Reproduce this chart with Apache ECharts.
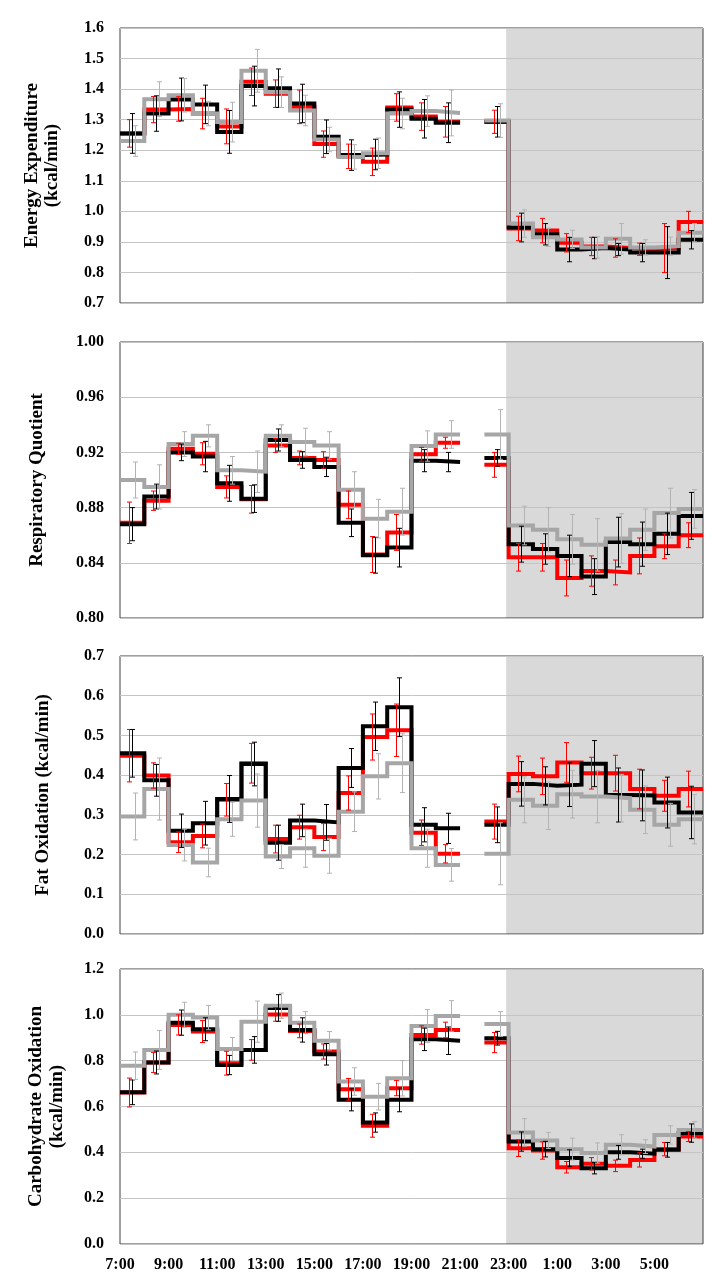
<!DOCTYPE html>
<html><head><meta charset="utf-8">
<script src="https://cdn.jsdelivr.net/npm/echarts@6/dist/echarts.min.js"></script>
<style>html,body{margin:0;padding:0;background:#fff}#c{width:722px;height:1280px}</style>
</head><body><div id="c"></div>
<script>
// 24 hourly bins starting at 7:00 (index = hours after 7:00); 21:00-22:00 bin has no data
const bins = ['7:00','8:00','9:00','10:00','11:00','12:00','13:00','14:00','15:00','16:00','17:00','18:00','19:00','20:00','21:00','22:00','23:00','0:00','1:00','2:00','3:00','4:00','5:00','6:00'];
const xTickLabels = ['7:00','9:00','11:00','13:00','15:00','17:00','19:00','21:00','23:00','1:00','3:00','5:00'];
const nightStart = 16; // 23:00
const nightEnd = 24;   // 7:00 next day

// Energy Expenditure (kcal/min)
const eeBlack    = [1.255,1.32,1.366,1.35,1.26,1.41,1.403,1.353,1.244,1.184,1.186,1.333,1.303,1.29,null,1.293,0.947,0.925,0.875,0.88,0.875,0.865,0.865,0.907];
const eeBlackErr = [0.065,0.058,0.07,0.063,0.07,0.065,0.063,0.063,0.055,0.05,0.05,0.058,0.063,0.065,null,0.05,0.047,0.035,0.04,0.035,0.02,0.03,0.085,0.03];
const eeRed      = [1.255,1.333,1.335,1.32,1.278,1.424,1.385,1.342,1.22,1.18,1.162,1.34,1.31,1.293,null,1.293,0.944,0.937,0.897,0.885,0.88,0.876,0.88,0.965];
const eeRedErr   = [0.045,0.043,0.04,0.05,0.057,0.045,0.045,0.055,0.043,0.04,0.045,0.045,0.045,0.05,null,0.038,0.04,0.04,0.03,0.03,0.03,0.02,0.08,0.035];
const eeGray     = [1.23,1.367,1.38,1.32,1.292,1.46,1.39,1.33,1.235,1.178,1.19,1.32,1.328,1.322,null,1.297,0.96,0.915,0.908,0.882,0.91,0.882,0.886,0.93];
const eeGrayErr  = [0.05,0.057,0.055,0.04,0.065,0.07,0.05,0.05,0.04,0.04,0.05,0.05,0.05,0.075,null,0.055,0.045,0.03,0.03,0.035,0.05,0.025,0.03,0.03];

// Respiratory Quotient
const rqBlack    = [0.868,0.888,0.920,0.917,0.8976,0.8865,0.929,0.9145,0.9095,0.869,0.8455,0.851,0.914,0.913,null,0.916,0.8535,0.850,0.845,0.830,0.855,0.8535,0.861,0.874];
const rqBlackErr = [0.012,0.009,0.006,0.011,0.013,0.01,0.008,0.006,0.007,0.01,0.013,0.014,0.008,0.007,null,0.006,0.013,0.011,0.015,0.013,0.018,0.016,0.015,0.017];
const rqRed      = [0.869,0.885,0.9226,0.919,0.895,0.886,0.925,0.916,0.9145,0.882,0.846,0.862,0.9186,0.927,null,0.911,0.844,0.844,0.829,0.834,0.833,0.845,0.852,0.860];
const rqRedErr   = [0.015,0.007,0.004,0.008,0.008,0.01,0.005,0.005,0.006,0.01,0.013,0.013,0.005,0.004,null,0.009,0.01,0.01,0.013,0.011,0.009,0.013,0.009,0.009];
const rqGray     = [0.900,0.895,0.926,0.932,0.907,0.906,0.932,0.9275,0.925,0.893,0.872,0.877,0.9246,0.933,null,0.933,0.867,0.864,0.857,0.853,0.8576,0.864,0.876,0.879];
const rqGrayErr  = [0.013,0.016,0.009,0.008,0.01,0.015,0.008,0.01,0.01,0.013,0.014,0.017,0.011,0.01,null,0.018,0.014,0.016,0.018,0.019,0.018,0.015,0.018,0.014];

// Fat Oxidation (kcal/min)
const fatBlack    = [0.455,0.387,0.26,0.279,0.34,0.428,0.23,0.286,0.281,0.418,0.523,0.571,0.275,0.266,null,0.275,0.378,0.373,0.376,0.429,0.35,0.349,0.331,0.306];
const fatBlackErr = [0.06,0.04,0.042,0.055,0.059,0.055,0.044,0.041,0.045,0.049,0.061,0.074,0.043,0.038,null,0.045,0.056,0.048,0.055,0.058,0.068,0.064,0.064,0.066];
const fatRed      = [0.449,0.399,0.231,0.247,0.338,0.43,0.239,0.269,0.244,0.355,0.496,0.513,0.255,0.202,null,0.283,0.403,0.397,0.432,0.405,0.405,0.365,0.348,0.365];
const fatRedErr   = [0.066,0.032,0.026,0.03,0.041,0.05,0.035,0.03,0.034,0.043,0.058,0.066,0.032,0.023,null,0.044,0.045,0.046,0.05,0.04,0.045,0.05,0.039,0.045];
const fatGray     = [0.296,0.365,0.224,0.18,0.289,0.336,0.195,0.216,0.197,0.308,0.397,0.43,0.216,0.174,null,0.202,0.338,0.323,0.352,0.346,0.342,0.313,0.275,0.289];
const fatGrayErr  = [0.059,0.078,0.04,0.036,0.043,0.067,0.03,0.048,0.044,0.05,0.057,0.074,0.048,0.041,null,0.078,0.058,0.06,0.06,0.066,0.06,0.06,0.054,0.062];

// Carbohydrate Oxidation (kcal/min)
const choBlack    = [0.662,0.792,0.966,0.937,0.781,0.847,1.03,0.934,0.828,0.629,0.530,0.629,0.893,0.887,null,0.898,0.447,0.414,0.375,0.331,0.4,0.394,0.411,0.484];
const choBlackErr = [0.054,0.05,0.055,0.05,0.042,0.058,0.058,0.053,0.047,0.048,0.042,0.052,0.049,0.06,null,0.03,0.042,0.034,0.036,0.025,0.03,0.02,0.032,0.04];
const choRed      = [0.661,0.792,0.956,0.927,0.789,0.847,1.002,0.93,0.84,0.675,0.516,0.68,0.912,0.934,null,0.879,0.418,0.408,0.335,0.35,0.341,0.367,0.414,0.469];
const choRedErr   = [0.063,0.044,0.044,0.048,0.052,0.045,0.03,0.03,0.033,0.047,0.05,0.033,0.04,0.034,null,0.044,0.036,0.038,0.025,0.027,0.025,0.031,0.029,0.022];
const choGray     = [0.778,0.847,1.0,0.988,0.851,0.97,1.04,0.966,0.887,0.709,0.643,0.723,0.951,0.995,null,0.96,0.487,0.452,0.414,0.397,0.433,0.425,0.476,0.498];
const choGrayErr  = [0.06,0.085,0.055,0.053,0.05,0.09,0.055,0.048,0.04,0.06,0.058,0.077,0.072,0.067,null,0.054,0.06,0.035,0.048,0.044,0.044,0.03,0.04,0.036];

const FONT = '"Liberation Serif","Times New Roman",serif';
const COLORS = {red:'#ff0000', black:'#000000', gray:'#a6a6a6'};
const ERRCOLORS = {red:'#ff0000', black:'#000000', gray:'#b3b3b3'};

const panels = [
  {name:'Energy Expenditure\n(kcal/min)', min:0.7, max:1.6, interval:0.1, dec:1, gap:58, lh:20,
   s:{red:[eeRed,eeRedErr], black:[eeBlack,eeBlackErr], gray:[eeGray,eeGrayErr]}},
  {name:'Respiratory Quotient', min:0.8, max:1.0, interval:0.04, dec:2, gap:73, lh:20,
   s:{red:[rqRed,rqRedErr], black:[rqBlack,rqBlackErr], gray:[rqGray,rqGrayErr]}},
  {name:'Fat Oxidation (kcal/min)', min:0, max:0.7, interval:0.1, dec:1, gap:67, lh:20,
   s:{red:[fatRed,fatRedErr], black:[fatBlack,fatBlackErr], gray:[fatGray,fatGrayErr]}},
  {name:'Carbohydrate Oxidation\n(kcal/min)', min:0, max:1.2, interval:0.2, dec:1, gap:52, lh:21,
   s:{red:[choRed,choRedErr], black:[choBlack,choBlackErr], gray:[choGray,choGrayErr]}}
];
const gridTops = [28, 342, 656, 969];
const gridHeights = [275, 276, 278, 275];

function stepData(vals){
  const out = [];
  vals.forEach((v,i)=>{
    if (v == null) { out.push([i+0.5,'-']); return; }
    out.push([i, v], [i+1, v]);
  });
  return out;
}
function errData(vals, errs){
  const out = [];
  vals.forEach((v,i)=>{ if (v != null) out.push([i+0.5, v, errs[i]]); });
  return out;
}
function errRender(dx, color){
  return function(params, api){
    const x = api.value(0), m = api.value(1), e = api.value(2);
    const t = api.coord([x, m+e]), b = api.coord([x, m-e]);
    const px = Math.round(t[0] + dx) + 0.5;
    const cw = 2.5;
    const st = {stroke: color, lineWidth: 1};
    return {type:'group', children:[
      {type:'line', shape:{x1:px, y1:t[1], x2:px, y2:b[1]}, style:st},
      {type:'line', shape:{x1:px-cw, y1:t[1], x2:px+cw, y2:t[1]}, style:st},
      {type:'line', shape:{x1:px-cw, y1:b[1], x2:px+cw, y2:b[1]}, style:st}
    ]};
  };
}

const grid = [], xAxis = [], yAxis = [], series = [];
panels.forEach((p, k)=>{
  grid.push({left:120, right:19, top:gridTops[k], height:gridHeights[k], show:true,
    borderColor:'#404040', borderWidth:1, backgroundColor:'transparent'});
  xAxis.push({type:'value', gridIndex:k, min:0, max:24, interval:2,
    axisLine:{show:false}, axisTick:{show:false}, splitLine:{show:false},
    axisLabel:{show: k===3, margin:13, fontFamily:FONT, fontWeight:'bold', fontSize:16, color:'#000',
      formatter:(v)=> (v < 24 ? xTickLabels[v/2] : '')}});
  yAxis.push({type:'value', gridIndex:k, min:p.min, max:p.max, interval:p.interval,
    name:p.name, nameLocation:'middle', nameRotate:90, nameGap:p.gap,
    nameTextStyle:{fontFamily:FONT, fontWeight:'bold', fontSize:19, color:'#000', lineHeight:p.lh},
    axisLine:{show:false}, axisTick:{show:false},
    splitLine:{show:true, lineStyle:{color:'#c4c4c4', width:1}},
    axisLabel:{margin:16, fontFamily:FONT, fontWeight:'bold', fontSize:16, color:'#000',
      formatter:(v)=> v.toFixed(p.dec)}});
  // night shading
  series.push({type:'custom', xAxisIndex:k, yAxisIndex:k, z:-1, silent:true,
    data:[[nightStart, nightEnd]],
    renderItem:function(params, api){
      const cs = params.coordSys;
      const x1 = api.coord([api.value(0), p.min])[0];
      const x2 = api.coord([api.value(1), p.min])[0];
      return {type:'rect', shape:{x:x1-2.5, y:cs.y, width:x2-x1+2.5, height:cs.height}, style:{fill:'#d9d9d9'}};
    }});
  const order = ['red','black','gray'];
  const dx = {red:-3, black:0, gray:3};
  order.forEach((c, j)=>{
    series.push({type:'line', xAxisIndex:k, yAxisIndex:k, data:stepData(p.s[c][0]),
      showSymbol:false, symbol:'none', connectNulls:false, z:2+j*0.1,
      lineStyle:{color:COLORS[c], width:4, join:'miter', cap:'butt'}, animation:false});
  });
  order.forEach((c)=>{
    series.push({type:'custom', xAxisIndex:k, yAxisIndex:k, z:4,
      data:errData(p.s[c][0], p.s[c][1]), encode:{x:0, y:1},
      renderItem:errRender(dx[c], ERRCOLORS[c]), animation:false});
  });
});

const chart = echarts.init(document.getElementById('c'), null, {renderer:'canvas'});
chart.setOption({animation:false, backgroundColor:'#fff', grid, xAxis, yAxis, series});
</script></body></html>
